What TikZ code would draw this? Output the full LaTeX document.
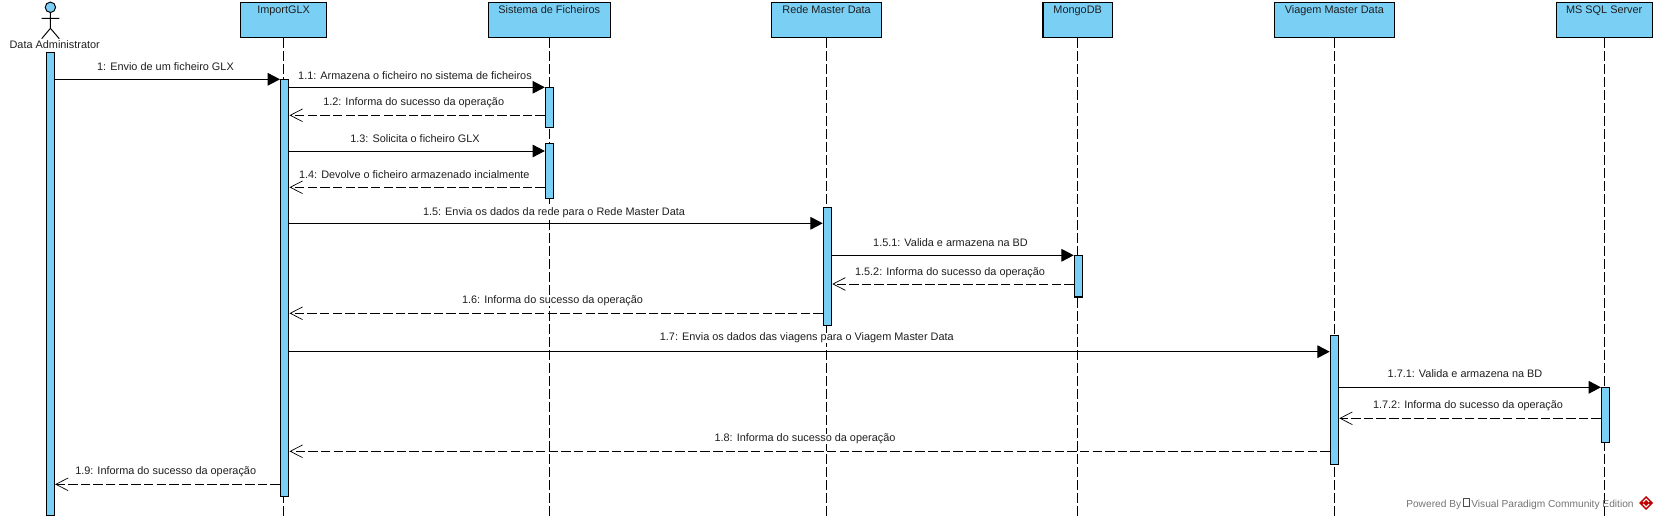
\documentclass[tikz,border=0pt]{standalone}
\usepackage{fontspec}
\setmainfont{Liberation Sans}
\usetikzlibrary{arrows.meta}
\definecolor{vpblue}{RGB}{122,207,245}
\tikzset{x=0.02cm,y=-0.02cm,
 lbl/.style={font=\fontsize{6.2pt}{7pt}\selectfont,inner sep=0pt,text=black!88},
 msglbl/.style={lbl,fill=white,anchor=base},
 lifebox/.style={draw=black,fill=vpblue,line width=0.65pt,minimum height=0.70cm,inner sep=0pt},
 lifeline/.style={line width=0.5pt,dash pattern=on 5.6pt off 1.8pt},
 actbar/.style={draw=black,fill=vpblue,line width=0.6pt,minimum width=0.17cm,inner sep=0pt,anchor=north},
 call/.style={line width=0.55pt,-{Triangle[length=7pt,width=7.2pt]}},
 ret/.style={line width=0.5pt,dash pattern=on 5.4pt off 1.8pt,-{Straight Barb[length=7pt,width=7.2pt,line width=0.4pt]}}}
\newcommand{\actbox}[4]{\node[actbar,minimum height={(#4-#3)*0.02cm}] (#1) at (#2,#3) {};}
\newcommand{\msg}[8]{\draw[#2] (#3 |- 0,#5) -- (#4 |- 0,#5); \node[msglbl] (m#1) at (#6,#7) {#8};}
\begin{document}
\begin{tikzpicture}
\useasboundingbox (0,0) rectangle (1658,520);
% lifelines
\foreach \n/\x/\w/\t in {b/283.6/85.4/ImportGLX,c/549.3/122.4/Sistema de Ficheiros,d/826.6/109.6/Rede Master Data,e/1077.7/69.5/MongoDB,f/1334.3/120/Viagem Master Data,g/1604.2/96/MS SQL Server}{
 \node[lifebox,minimum width=\w*0.02cm] (\n) at (\x,19.7) {};
 \node[lbl,anchor=base] (\n t) at (\x,14) {\t};
 \coordinate (\n e) at (\x,518);
 \draw[lifeline] (\n.south) -- (\n e);
}
% actor
\draw[line width=0.55pt,fill=vpblue] (50.4,7.3) circle (5.2);
\draw[line width=0.55pt] (50.4,12.5) -- (50.4,28.3) (41.7,18.3) -- (59.3,18.3) (41.7,38.7) -- (50.4,28.3) -- (59.3,38.7);
\node[lbl,anchor=base] (a) at (54.7,48.5) {Data Administrator};
% activations
\actbox{A}{50.3}{52.3}{515.3}
\actbox{B}{284.7}{79.3}{496.3}
\actbox{C1}{549.6}{87.3}{127}
\actbox{C2}{549.6}{143.3}{198}
\actbox{D}{827.5}{207.3}{325.3}
\actbox{E}{1078.5}{255.3}{296.5}
\actbox{F}{1334.5}{335.3}{463.7}
\actbox{G}{1605.7}{387.3}{442.3}
\msg{1}{call}{A.east}{B.west}{79.3}{165.5}{71}{1: Envio de um ficheiro GLX}
\msg{2}{call}{B.east}{C1.west}{87.3}{415}{79.4}{1.1: Armazena o ficheiro no sistema de ficheiros}
\msg{3}{ret}{C1.west}{B.east}{115.3}{413.7}{106}{1.2: Informa do sucesso da operação}
\msg{4}{call}{B.east}{C2.west}{151}{415}{143}{1.3: Solicita o ficheiro GLX}
\msg{5}{ret}{C2.west}{B.east}{187.3}{414.3}{178.7}{1.4: Devolve o ficheiro armazenado incialmente}
\msg{6}{call}{B.east}{D.west}{223.3}{554}{215.2}{1.5: Envia os dados da rede para o Rede Master Data}
\msg{7}{call}{D.east}{E.west}{255.3}{950.5}{247}{1.5.1: Valida e armazena na BD}
\msg{8}{ret}{E.west}{D.east}{284}{950}{275.4}{1.5.2: Informa do sucesso da operação}
\msg{9}{ret}{D.west}{B.east}{313.3}{552.5}{304}{1.6: Informa do sucesso da operação}
\msg{10}{call}{B.east}{F.west}{351.7}{806.8}{341}{1.7: Envia os dados das viagens para o Viagem Master Data}
\msg{11}{call}{F.east}{G.west}{387.3}{1465}{377.7}{1.7.1: Valida e armazena na BD}
\msg{12}{ret}{G.west}{F.east}{418.3}{1468}{409}{1.7.2: Informa do sucesso da operação}
\msg{13}{ret}{F.west}{B.east}{451.3}{805}{441.5}{1.8: Informa do sucesso da operação}
\msg{14}{ret}{B.west}{A.east}{484.3}{165.7}{474.7}{1.9: Informa do sucesso da operação}
% footer
\node[lbl,anchor=base east,text=black!55,font=\fontsize{5.8pt}{7pt}\selectfont] (wm) at (1634,507) {Powered By\,\tikz[x=1pt,y=1pt]\draw[line width=0.4pt,black!70] (0,0) rectangle (3.4,4.6);\,Visual Paradigm Community Edition};
\fill[red!75!black] (1646,496) -- (1653,503) -- (1646,510) -- (1639,503) -- cycle;
\draw[white,line width=0.6pt] (1643,502) -- (1646,499) -- (1649,502) (1643,504) -- (1646,507) -- (1649,504);
\end{tikzpicture}
\end{document}
